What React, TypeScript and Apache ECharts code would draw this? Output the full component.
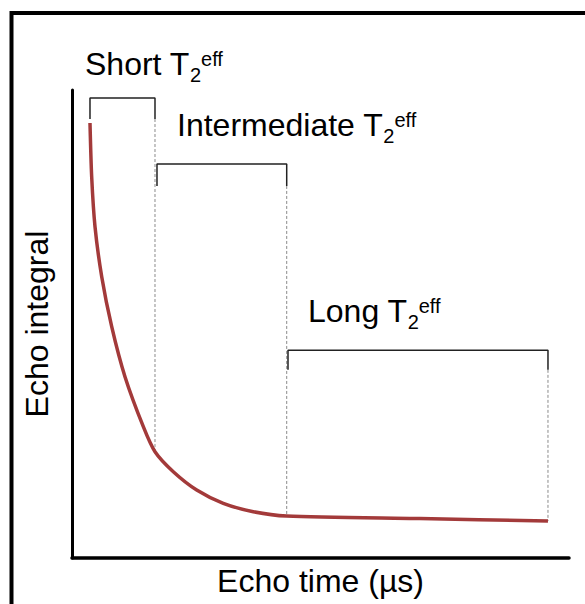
import React, { useEffect, useRef } from 'react';
import * as echarts from 'echarts';

// Echo decay curve (arbitrary units)
const curveX = [3.62, 3.96, 4.63, 5.98, 7.99, 10.66, 14.35, 16.7, 20.38, 25.09, 30.44, 36.48, 43.2, 70.0, 95.77];
const curveY = [92.95, 81.47, 70.79, 60.11, 49.42, 38.74, 28.06, 22.71, 18.44, 14.53, 11.69, 9.89, 8.97, 8.44, 7.91];

// T2eff regions (brackets)
const regionNames = ['Short', 'Intermediate', 'Long'];
const bracketStart = [3.62, 17.1, 43.46];
const bracketEnd = [16.7, 43.2, 95.77];
const bracketTop = [98.3, 84.2, 44.4];
const legBottom = [93.8, 79.5, 40.2];

const xTitle = 'Echo time (µs)';
const yTitle = 'Echo integral';

const FONT = "'Liberation Sans', Arial, Helvetica, sans-serif";
const MAIN_SIZE = 32;
const SMALL_SIZE = 20;

// label layout (pixels)
const labelPos = [
  { x: 85, base: 75 },
  { x: 177, base: 136 },
  { x: 308, base: 322 },
];

function measure(text: string, size: number): number {
  const c = document.createElement('canvas').getContext('2d');
  if (!c) return text.length * size * 0.55;
  c.font = `${size}px ${FONT}`;
  return c.measureText(text).width;
}

export default function App() {
  const ref = useRef<HTMLDivElement>(null);
  useEffect(() => {
    if (!ref.current) return;
    const chart = echarts.init(ref.current, null, { renderer: 'svg' });

    const curveData = curveX.map((x, i) => [x, curveY[i]]);
    const bracketSeries = regionNames.map((name, i) => ({
      type: 'line',
      name: name + ' bracket',
      symbol: 'none',
      silent: true,
      lineStyle: { color: '#222', width: 1.5 },
      data: [
        [bracketStart[i], legBottom[i]],
        [bracketStart[i], bracketTop[i]],
        [bracketEnd[i], bracketTop[i]],
        [bracketEnd[i], legBottom[i]],
      ],
      z: 3,
    }));
    const dashSeries = regionNames.map((name, i) => {
      const idx = curveX.indexOf(bracketEnd[i]);
      return {
        type: 'line',
        name: name + ' divider',
        symbol: 'none',
        silent: true,
        lineStyle: { color: '#8a8a8a', width: 1, type: [3, 2] },
        data: [
          [bracketEnd[i], legBottom[i]],
          [bracketEnd[i], curveY[idx]],
        ],
        z: 2,
      };
    });

    const graphics: any[] = [
      {
        type: 'polyline',
        shape: { points: [[11.5, 610], [11.5, 13], [590, 13]] },
        style: { stroke: '#000', lineWidth: 4, fill: null },
        silent: true,
      },
    ];
    regionNames.forEach((name, i) => {
      const p = labelPos[i];
      const main = name + ' T';
      const w = measure(main, MAIN_SIZE);
      const w2 = measure('2', SMALL_SIZE);
      graphics.push(
        {
          type: 'text',
          x: p.x,
          y: p.base - 11,
          style: { text: main, font: `${MAIN_SIZE}px ${FONT}`, fill: '#000', verticalAlign: 'middle', align: 'left' },
        },
        {
          type: 'text',
          x: p.x + w,
          y: p.base,
          style: { text: '2', font: `${SMALL_SIZE}px ${FONT}`, fill: '#000', verticalAlign: 'middle', align: 'left' },
        },
        {
          type: 'text',
          x: p.x + w + w2,
          y: p.base - 16,
          style: { text: 'eff', font: `${SMALL_SIZE}px ${FONT}`, fill: '#000', verticalAlign: 'middle', align: 'left' },
        }
      );
    });

    chart.setOption({
      animation: false,
      backgroundColor: '#fff',
      grid: { left: 72, right: 16, top: 90, bottom: 46 },
      xAxis: {
        type: 'value',
        min: 0,
        max: 100,
        name: xTitle,
        nameLocation: 'middle',
        nameGap: 7,
        nameTextStyle: { fontSize: MAIN_SIZE, fontFamily: FONT, color: '#000' },
        axisLine: { show: true, lineStyle: { color: '#000', width: 3.5 } },
        axisTick: { show: false },
        axisLabel: { show: false },
        splitLine: { show: false },
      },
      yAxis: {
        type: 'value',
        min: 0,
        max: 100,
        name: yTitle,
        nameLocation: 'middle',
        nameRotate: 90,
        nameGap: 19,
        nameTextStyle: { fontSize: MAIN_SIZE, fontFamily: FONT, color: '#000' },
        axisLine: { show: true, lineStyle: { color: '#000', width: 3 } },
        axisTick: { show: false },
        axisLabel: { show: false },
        splitLine: { show: false },
      },
      graphic: graphics,
      series: [
        ...dashSeries,
        ...bracketSeries,
        {
          type: 'line',
          name: 'Echo integral',
          symbol: 'none',
          smooth: 0.25,
          lineStyle: { color: '#A33A3A', width: 3.5 },
          data: curveData,
          z: 4,
        },
      ],
    });
    return () => chart.dispose();
  }, []);
  return (
    <div
      ref={ref}
      style={{ position: 'fixed', left: 0, top: 0, width: 585, height: 604, background: '#fff' }}
    />
  );
}
